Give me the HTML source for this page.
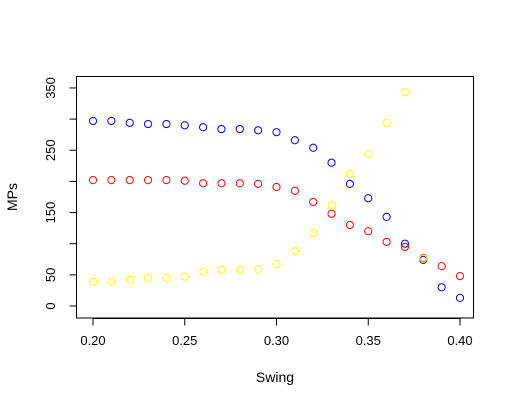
<!DOCTYPE html>
<html><head><meta charset="utf-8"><style>
html,body{margin:0;padding:0;background:#fff;}
svg{display:block;font-family:"Liberation Sans",Arial,sans-serif;}
</style></head><body>
<svg id="chart" width="515" height="406" viewBox="0 0 515 406">
<rect x="76.5" y="76.5" width="397" height="241.5" fill="none" stroke="#000" stroke-width="1"/>
<g id="axes"></g>
<g id="points"></g>
<text x="275" y="382" font-size="14" text-anchor="middle">Swing</text>
<text x="17" y="197" font-size="14" text-anchor="middle" transform="rotate(-90 17 197)">MPs</text>
</svg>
<script>
const swing=[0.20,0.21,0.22,0.23,0.24,0.25,0.26,0.27,0.28,0.29,0.30,0.31,0.32,0.33,0.34,0.35,0.36,0.37,0.38,0.39,0.40];
const blueVals=[297,297,294,292,292,290,287,284,284,282,279,266,254,230,196,173,143,100,74,30,13];
const redVals=[202,202,202,202,202,201,197,197,197,196,191,185,167,148,130,120,103,95,77,64,48];
const yellowVals=[39,39,42,45,45,47,55,58,58,59,67,88,117,162,212,244,294,343,76,null,null];
const xTicks=[0.20,0.25,0.30,0.35,0.40];
const xTickLabels=["0.20","0.25","0.30","0.35","0.40"];
const yTicks=[0,50,100,150,200,250,300,350];
const yTickLabels=["0","50","","150","","250","","350"];
const NS="http://www.w3.org/2000/svg";
function xs(v){return 93+(v-0.20)/0.20*367;}
function ys(v){return 306-v*0.623;}
function mk(t,a,p){const e=document.createElementNS(NS,t);for(const k in a)e.setAttribute(k,a[k]);p.appendChild(e);return e;}
const ax=document.getElementById('axes');
let l=mk('line',{x1:xs(0.2),x2:xs(0.4),y1:318.5,y2:318.5,stroke:'#000'},ax);


xTicks.forEach((t,i)=>{
 const tk=mk('line',{x1:xs(t),x2:xs(t),y1:318.5,y2:325.5,stroke:'#000'},ax);
 
 
 const tx=mk('text',{x:xs(t),y:345,'font-size':13,'text-anchor':'middle'},ax);tx.textContent=xTickLabels[i];
 
 
});
l=mk('line',{x1:76.5,x2:76.5,y1:ys(0),y2:ys(350),stroke:'#000'},ax);


yTicks.forEach((t,i)=>{
 const tk=mk('line',{x1:69.5,x2:76.5,y1:ys(t),y2:ys(t),stroke:'#000'},ax);
 
 
 if(yTickLabels[i]){
 const tx=mk('text',{x:0,y:0,'font-size':13,'text-anchor':'middle',transform:`translate(55 ${ys(t)}) rotate(-90)`},ax);tx.textContent=yTickLabels[i];
 
 }
});
const pg=document.getElementById('points');
[[blueVals,'#0000ff','blue'],[redVals,'#ff0000','red'],[yellowVals,'#ffff00','yellow']].forEach(([vals,c,n])=>{
 vals.forEach((v,i)=>{ if(v===null)return;
  const p=mk('circle',{cx:xs(swing[i]),cy:ys(v),r:3.6,fill:'none',stroke:c,'stroke-width':1},pg);
  
  
 });
});
</script>
</body></html>
